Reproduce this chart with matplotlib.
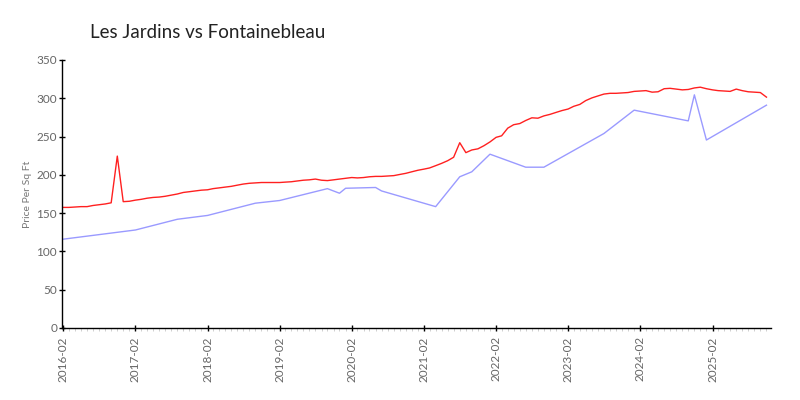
import matplotlib
matplotlib.use("Agg")
import matplotlib.pyplot as plt
import matplotlib.dates as mdates
import pandas as pd

title = "Les Jardins vs Fontainebleau"
y_label = "Price Per Sq Ft"

# Red series: monthly, 2016-02 .. 2025-11
red_start = "2016-02"
red_values = [
    157.5, 157.5, 158, 158.5, 158.5, 160, 161, 162, 163.5, 224.5,
    165, 165.5, 167, 168, 169.5, 170.5, 171, 172, 173.5, 175,
    177, 178, 179, 180, 180.5, 182, 183, 184, 185, 186.5,
    188, 189, 189.5, 190, 190, 190, 190, 190.5, 191, 192,
    193, 193.5, 194.5, 193, 192.5, 193.5, 194.5, 195.5, 196.5, 196,
    196.5, 197.5, 198, 198, 198.5, 199, 200.5, 202, 204, 206,
    207.5, 209, 212, 215, 218.5, 223, 242, 229, 232.5, 234,
    238, 243, 249, 251, 261, 265.5, 267, 271, 274.5, 274,
    277, 279, 281.5, 284, 286, 289.5, 292, 297, 300.5, 303,
    305.5, 306.5, 306.5, 307, 307.5, 309, 309.5, 310, 308, 308.5,
    312.5, 313, 312, 311, 311.5, 313.5, 314.5, 312.5, 311, 310,
    309.5, 309, 312, 310, 308.5, 308, 307.5, 301.5,
]

# Blue series: sparse observations
blue_dates = [
    "2016-02", "2017-02", "2017-09", "2018-02", "2018-10", "2019-02",
    "2019-10", "2019-12", "2020-01", "2020-06", "2020-07", "2021-04",
    "2021-08", "2021-10", "2022-01", "2022-07", "2022-10", "2023-08",
    "2024-01", "2024-10", "2024-11", "2025-01", "2025-11",
]
blue_values = [
    116, 128, 142, 147, 163, 166.5,
    182, 176, 182.5, 183.5, 179, 158.5,
    197.5, 204, 227, 210, 210, 254,
    284.5, 270.5, 304.5, 245.5, 291,
]

red_x = pd.date_range(red_start, periods=len(red_values), freq="MS")
blue_x = pd.to_datetime(blue_dates)

fig = plt.figure(figsize=(8, 4), dpi=100)
ax = fig.add_axes([0.0775, 0.18, 0.8865, 0.67])

ax.plot(blue_x, blue_values, color="#9a9aff", lw=1.0)
ax.plot(red_x, red_values, color="#ff2020", lw=1.0)

ax.set_ylim(0, 350)
ax.set_yticks(range(0, 351, 50))
ax.set_xlim(pd.Timestamp("2016-01-26"), pd.Timestamp("2025-11-25"))

ax.xaxis.set_major_locator(mdates.MonthLocator(bymonth=2))
ax.xaxis.set_major_formatter(mdates.DateFormatter("%Y-%m"))
ax.xaxis.set_minor_locator(mdates.MonthLocator())

for s in ("top", "right"):
    ax.spines[s].set_visible(False)
for s in ("left", "bottom"):
    ax.spines[s].set_linewidth(1.0)
    ax.spines[s].set_color("black")

fam = ["Lato", "DejaVu Sans"]
ax.tick_params(axis="both", which="major", direction="inout", length=5, width=1,
               color="black", labelsize=8.5, labelcolor="#666666")
ax.tick_params(axis="x", which="minor", direction="out", length=2.5, width=0.6,
               color="#c8c8c8")
ax.tick_params(axis="y", pad=1)
for lbl in ax.get_xticklabels():
    lbl.set_rotation(90)
    lbl.set_family(fam)
for lbl in ax.get_yticklabels():
    lbl.set_family(fam)

ax.set_ylabel(y_label, fontsize=7.5, color="#777777", family=fam, labelpad=3)
fig.text(0.1125, 0.92, title, fontsize=13.5, color="#222222", family=fam,
         ha="left", va="center")

fig.savefig("out.png", dpi=100)
